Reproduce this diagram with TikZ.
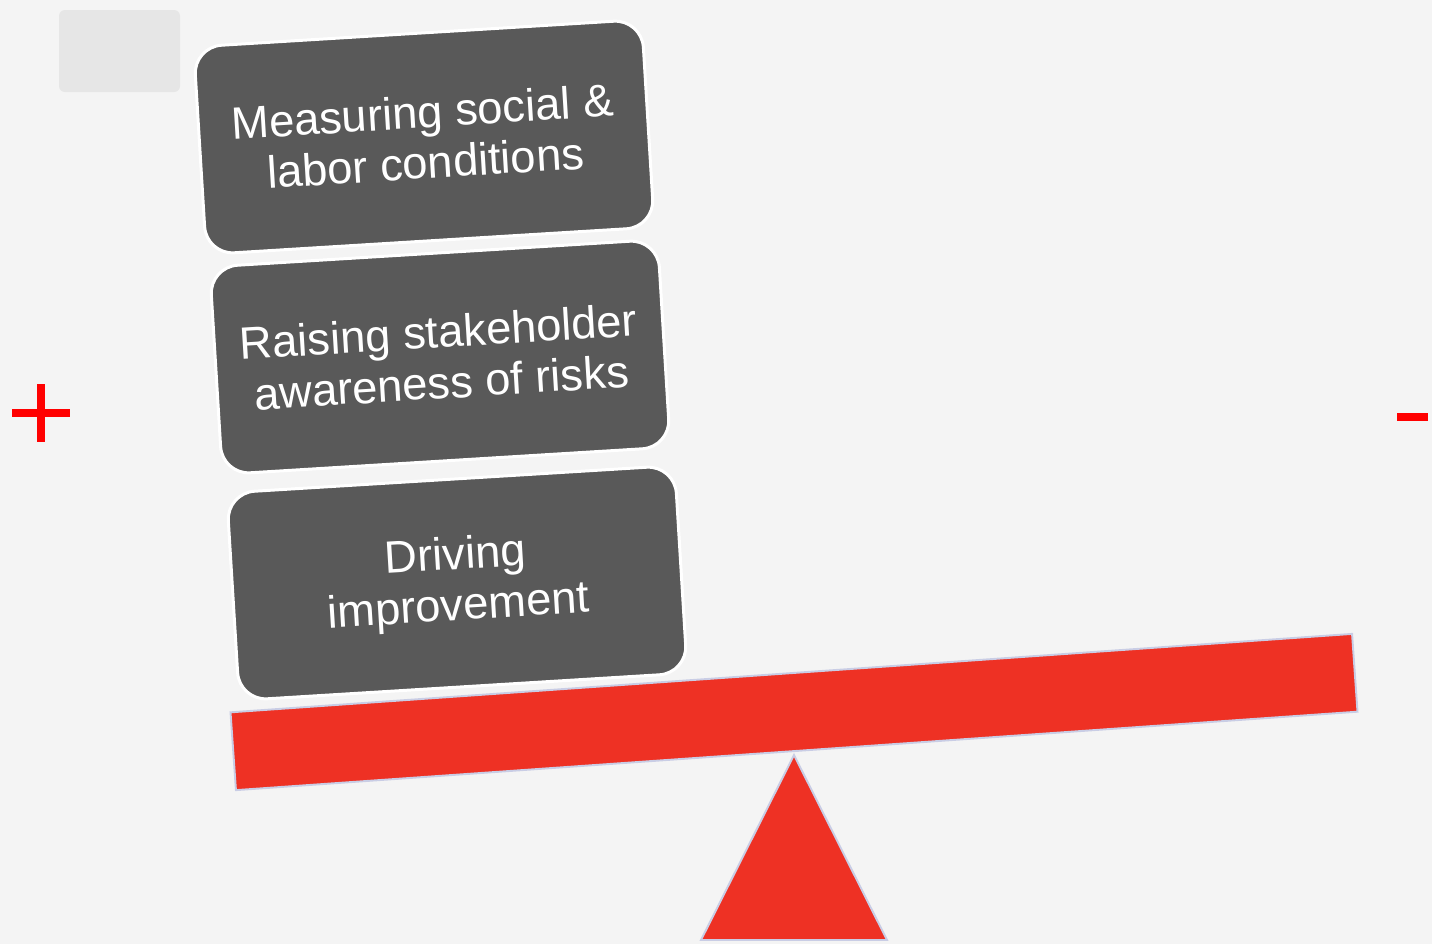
\documentclass[tikz,border=0pt]{standalone}
\usepackage{fontspec}
\setmainfont{Liberation Sans}
\definecolor{backgray}{HTML}{F4F4F4}
\definecolor{tabgray}{HTML}{E6E6E6}
\definecolor{blockgray}{HTML}{595959}
\definecolor{beamred}{HTML}{EE3124}
\definecolor{edgeblue}{HTML}{C9CDE5}

\begin{document}
\begin{tikzpicture}[x=0.02cm,y=-0.02cm,
	block/.style={rectangle,rounded corners=0.56cm,fill=blockgray,draw=white,line width=1.7pt,
		minimum width=8.98cm,minimum height=4.16cm,rotate=3.5,align=center,text=white,
		font=\fontsize{25.8}{29}\selectfont},
	signbar/.style={draw=red,line width=4.5pt}]
		%background
			\useasboundingbox[fill=backgray] (0,0) rectangle (1432,944);
			\fill[tabgray,rounded corners=0.12cm] (59,10) rectangle (180,92);
		%weights
			\node[block] (measure) at (424,137) {Measuring social \&\\labor conditions};
			\node[block] (raise) at (440,357) {Raising stakeholder\\awareness of risks};
			\node[block] (drive) at (457,583) {Driving\\improvement};
		%beam + pivot
			\node[rectangle,fill=beamred,draw=edgeblue,line width=1.1pt,minimum width=22.49cm,
				minimum height=1.56cm,rotate=4] (beam) at (794,712) {};
			\draw[fill=beamred,draw=edgeblue,line width=1.1pt] (794,755) -- (887,940) -- (701,940) -- cycle;
		%plus + minus
			\draw[signbar] (41,384) -- (41,442);
			\draw[signbar] (12,413) -- (70,413);
			\draw[signbar] (1397,417) -- (1428,417);
	\end{tikzpicture}
\end{document}
